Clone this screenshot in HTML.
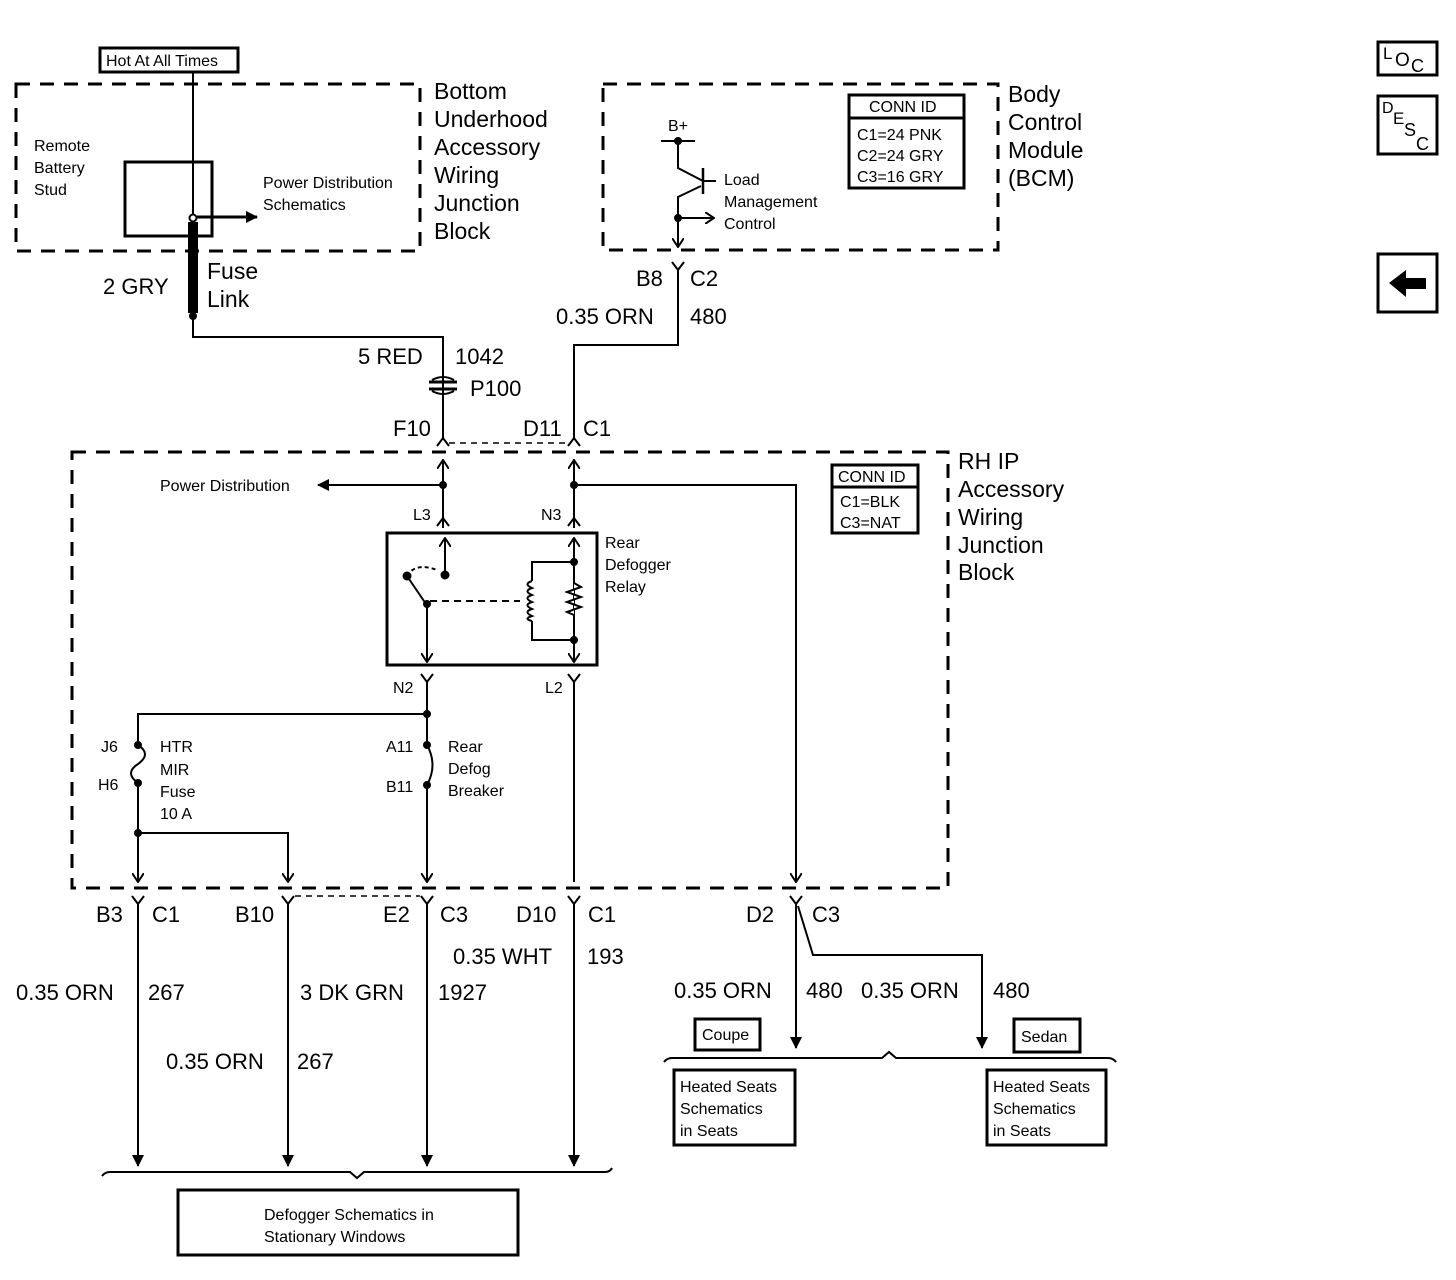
<!DOCTYPE html>
<html><head><meta charset="utf-8"><style>
html,body{margin:0;padding:0;background:#fff;}
svg{display:block;font-family:"Liberation Sans",Arial,sans-serif;}
.s{font-size:16px;}
.m{font-size:22px;}
.l{font-size:23px;}
</style></head><body>
<svg width="1456" height="1280" viewBox="0 0 1456 1280" xmlns="http://www.w3.org/2000/svg">
<defs>
<marker id="a" markerWidth="12" markerHeight="12" refX="11" refY="6" orient="auto" markerUnits="userSpaceOnUse"><path d="M0,0 L12,6 L0,12 z" fill="#000"/></marker>
<marker id="o" markerWidth="10" markerHeight="12" refX="9" refY="6" orient="auto" markerUnits="userSpaceOnUse"><path d="M0,0 L9,6 L0,12" fill="none" stroke="#000" stroke-width="2"/></marker>
</defs>
<g fill="none" stroke="#000" stroke-width="2">
<rect x="16" y="84" width="404" height="167" stroke-width="3" stroke-dasharray="14,10"/>
<rect x="603" y="84" width="395" height="166" stroke-width="3" stroke-dasharray="14,10"/>
<rect x="72" y="452" width="876" height="436" stroke-width="3" stroke-dasharray="14,10"/>
<rect x="100" y="48" width="138" height="24" stroke-width="3"/>
<line x1="193" y1="72" x2="193" y2="215"/>
<rect x="125" y="162" width="87" height="74" stroke-width="3"/>
<circle cx="193" cy="218" r="3.5" fill="#fff"/>
<line x1="197" y1="217" x2="257" y2="217" stroke-width="3" marker-end="url(#a)"/>
<line x1="193" y1="222" x2="193" y2="313" stroke-width="10"/>
<circle cx="193" cy="316" r="3" fill="#000"/>
<polyline points="193,316 193,337 443,337 443,440"/>
<path d="M429,382 h28 M429,389 h28" stroke-width="3"/>
<path d="M432,380 q11,-6 22,0 M432,391 q11,6 22,0"/>
<line x1="661" y1="141" x2="695" y2="141"/>
<circle cx="678" cy="141" r="3" fill="#000"/>
<polyline points="678,141 678,168 703,181"/>
<line x1="703" y1="168" x2="703" y2="194" stroke-width="2.5"/>
<line x1="703" y1="181" x2="716" y2="181"/>
<polyline points="701,186 678,197 678,247" marker-end="url(#o)"/>
<circle cx="678" cy="218" r="3" fill="#000"/>
<line x1="678" y1="218" x2="714" y2="218" marker-end="url(#o)"/>
<rect x="849" y="95" width="115" height="93" stroke-width="3"/>
<line x1="849" y1="118" x2="964" y2="118" stroke-width="3"/>
<path d="M672,262 L678,270 L684,262 M678,270 V345 H574 V440"/>
<path d="M437,446 L443,438 L449,446 M568,446 L574,438 L580,446"/>
<line x1="449" y1="443" x2="568" y2="443" stroke-dasharray="6,5" stroke-width="1.5"/>
<line x1="443" y1="528" x2="443" y2="460" marker-end="url(#o)"/>
<line x1="574" y1="528" x2="574" y2="460" marker-end="url(#o)"/>
<circle cx="443" cy="485" r="3" fill="#000"/>
<line x1="443" y1="485" x2="318" y2="485" marker-end="url(#a)"/>
<circle cx="574" cy="485" r="3" fill="#000"/>
<polyline points="574,485 796,485 796,882" marker-end="url(#o)"/>
<path d="M437,526 L443,518 L449,526 M568,526 L574,518 L580,526"/>
<rect x="387" y="533" width="210" height="132" stroke-width="3"/>
<line x1="445" y1="575" x2="445" y2="538" marker-end="url(#o)"/>
<circle cx="445" cy="575" r="3.5" fill="#000"/>
<path d="M407,576 q8,-14 30,-6" stroke-dasharray="4,3"/>
<circle cx="407" cy="576" r="3.5" fill="#000"/>
<line x1="409" y1="579" x2="426" y2="604"/>
<circle cx="427" cy="604" r="3" fill="#000"/>
<line x1="427" y1="604" x2="427" y2="662" marker-end="url(#o)"/>
<line x1="430" y1="601" x2="520" y2="601" stroke-dasharray="7,5"/>
<line x1="574" y1="662" x2="574" y2="538" marker-end="url(#o)"/>
<line x1="574" y1="538" x2="574" y2="662" marker-end="url(#o)"/>
<path d="M574,562 H532 V581 M532,621 V640 H574"/>
<path d="M532,581 q-9,3 0,7 q-9,3 0,7 q-9,3 0,7 q-9,3 0,7 q-9,3 0,7 q-9,3 0,5"/>
<path d="M574,583 l7,4 l-14,5 l14,5 l-14,5 l14,5 l-14,5 l7,3" fill="#fff" stroke="#000"/>
<circle cx="574" cy="562" r="3" fill="#000"/><circle cx="574" cy="640" r="3" fill="#000"/>
<path d="M421,674 L427,682 L433,674 M427,682 V714 M568,674 L574,682 L580,674 M574,682 V882"/>
<polyline points="427,714 138,714 138,745"/>
<circle cx="427" cy="714" r="3" fill="#000"/>
<path d="M138,745 q14,9 0,19 q-14,9 0,19"/>
<circle cx="138" cy="745" r="3" fill="#000"/><circle cx="138" cy="783" r="3" fill="#000"/>
<line x1="138" y1="783" x2="138" y2="882" marker-end="url(#o)"/>
<circle cx="138" cy="833" r="3" fill="#000"/>
<polyline points="138,833 288,833 288,882" marker-end="url(#o)"/>
<line x1="427" y1="714" x2="427" y2="745"/>
<path d="M427,745 q11,20 0,40"/>
<circle cx="427" cy="745" r="3" fill="#000"/><circle cx="427" cy="785" r="3" fill="#000"/>
<line x1="427" y1="785" x2="427" y2="882" marker-end="url(#o)"/>
<path d="M132,896 L138,904 L144,896 M282,896 L288,904 L294,896 M421,896 L427,904 L433,896 M568,896 L574,904 L580,896 M790,896 L796,904 L802,896"/>
<line x1="295" y1="896" x2="420" y2="896" stroke-dasharray="6,5" stroke-width="1.5"/>
<line x1="138" y1="904" x2="138" y2="1166" marker-end="url(#a)"/>
<line x1="288" y1="904" x2="288" y2="1166" marker-end="url(#a)"/>
<line x1="427" y1="904" x2="427" y2="1166" marker-end="url(#a)"/>
<line x1="574" y1="904" x2="574" y2="1166" marker-end="url(#a)"/>
<line x1="796" y1="904" x2="796" y2="1048" marker-end="url(#a)"/>
<polyline points="798,906 813,955 982,955 982,1048" marker-end="url(#a)"/>
<path d="M102,1176 q3,-4 8,-4 H350 l7,6 l7,-6 H605 q5,0 7,-4"/>
<path d="M664,1062 q3,-4 8,-4 H882 l7,-6 l7,6 H1108 q5,0 8,4"/>
<rect x="178" y="1190" width="340" height="65" stroke-width="3"/>
<rect x="695" y="1019" width="65" height="31" stroke-width="3"/>
<rect x="1014" y="1019" width="66" height="33" stroke-width="3"/>
<rect x="674" y="1070" width="121" height="75" stroke-width="3"/>
<rect x="987" y="1070" width="119" height="75" stroke-width="3"/>
<rect x="832" y="465" width="86" height="68" stroke-width="3"/>
<line x1="832" y1="487" x2="918" y2="487" stroke-width="3"/>
<rect x="1378" y="42" width="59" height="33" stroke-width="3"/>
<rect x="1378" y="96" width="59" height="58" stroke-width="3"/>
<rect x="1378" y="254" width="59" height="58" stroke-width="3"/>
</g>
<path d="M1389,283 L1406,270 V278 H1426 V289 H1406 V297 Z" fill="#000"/>
<g fill="#000">
<text x="106" y="66" class="s">Hot At All Times</text>
<text x="34" y="151" class="s">Remote</text><text x="34" y="173" class="s">Battery</text><text x="34" y="195" class="s">Stud</text>
<text x="263" y="188" class="s">Power Distribution</text><text x="263" y="210" class="s">Schematics</text>
<text x="434" y="99" class="l">Bottom</text><text x="434" y="127" class="l">Underhood</text><text x="434" y="155" class="l">Accessory</text><text x="434" y="183" class="l">Wiring</text><text x="434" y="211" class="l">Junction</text><text x="434" y="239" class="l">Block</text>
<text x="207" y="279" class="l">Fuse</text><text x="207" y="307" class="l">Link</text>
<text x="103" y="294" class="m">2 GRY</text>
<text x="668" y="131" class="s">B+</text>
<text x="724" y="185" class="s">Load</text><text x="724" y="207" class="s">Management</text><text x="724" y="229" class="s">Control</text>
<text x="869" y="112" class="s">CONN ID</text>
<text x="857" y="140" class="s">C1=24 PNK</text><text x="857" y="161" class="s">C2=24 GRY</text><text x="857" y="182" class="s">C3=16 GRY</text>
<text x="1008" y="102" class="l">Body</text><text x="1008" y="130" class="l">Control</text><text x="1008" y="158" class="l">Module</text><text x="1008" y="186" class="l">(BCM)</text>
<text x="636" y="286" class="m">B8</text><text x="690" y="286" class="m">C2</text>
<text x="556" y="324" class="m">0.35 ORN</text><text x="690" y="324" class="m">480</text>
<text x="358" y="364" class="m">5 RED</text><text x="455" y="364" class="m">1042</text>
<text x="470" y="396" class="m">P100</text>
<text x="393" y="436" class="m">F10</text><text x="523" y="436" class="m">D11</text><text x="583" y="436" class="m">C1</text>
<text x="958" y="469" class="l">RH IP</text><text x="958" y="497" class="l">Accessory</text><text x="958" y="525" class="l">Wiring</text><text x="958" y="553" class="l">Junction</text><text x="958" y="580" class="l">Block</text>
<text x="838" y="482" class="s">CONN ID</text><text x="840" y="507" class="s">C1=BLK</text><text x="840" y="528" class="s">C3=NAT</text>
<text x="160" y="491" class="s">Power Distribution</text>
<text x="413" y="520" class="s">L3</text><text x="541" y="520" class="s">N3</text>
<text x="605" y="548" class="s">Rear</text><text x="605" y="570" class="s">Defogger</text><text x="605" y="592" class="s">Relay</text>
<text x="393" y="693" class="s">N2</text><text x="545" y="693" class="s">L2</text>
<text x="101" y="752" class="s">J6</text><text x="98" y="790" class="s">H6</text>
<text x="160" y="752" class="s">HTR</text><text x="160" y="775" class="s">MIR</text><text x="160" y="797" class="s">Fuse</text><text x="160" y="819" class="s">10 A</text>
<text x="386" y="752" class="s">A11</text><text x="386" y="792" class="s">B11</text>
<text x="448" y="752" class="s">Rear</text><text x="448" y="774" class="s">Defog</text><text x="448" y="796" class="s">Breaker</text>
<text x="96" y="922" class="m">B3</text><text x="152" y="922" class="m">C1</text>
<text x="235" y="922" class="m">B10</text>
<text x="383" y="922" class="m">E2</text><text x="440" y="922" class="m">C3</text>
<text x="516" y="922" class="m">D10</text><text x="588" y="922" class="m">C1</text>
<text x="746" y="922" class="m">D2</text><text x="812" y="922" class="m">C3</text>
<text x="453" y="964" class="m">0.35 WHT</text><text x="587" y="964" class="m">193</text>
<text x="16" y="1000" class="m">0.35 ORN</text><text x="148" y="1000" class="m">267</text>
<text x="300" y="1000" class="m">3 DK GRN</text><text x="438" y="1000" class="m">1927</text>
<text x="166" y="1069" class="m">0.35 ORN</text><text x="297" y="1069" class="m">267</text>
<text x="674" y="998" class="m">0.35 ORN</text><text x="806" y="998" class="m">480</text>
<text x="861" y="998" class="m">0.35 ORN</text><text x="993" y="998" class="m">480</text>
<text x="702" y="1040" class="s">Coupe</text><text x="1021" y="1042" class="s">Sedan</text>
<text x="680" y="1092" class="s">Heated Seats</text><text x="680" y="1114" class="s">Schematics</text><text x="680" y="1136" class="s">in Seats</text>
<text x="993" y="1092" class="s">Heated Seats</text><text x="993" y="1114" class="s">Schematics</text><text x="993" y="1136" class="s">in Seats</text>
<text x="264" y="1220" class="s">Defogger Schematics in</text><text x="264" y="1242" class="s">Stationary Windows</text>
<text x="1383" y="59" font-size="17">L</text><text x="1395" y="66" font-size="19">O</text><text x="1411" y="72" font-size="18">C</text>
<text x="1382" y="113" font-size="16">D</text><text x="1393" y="124" font-size="17">E</text><text x="1404" y="136" font-size="18">S</text><text x="1416" y="150" font-size="18">C</text>
</g>
</svg>
</body></html>
